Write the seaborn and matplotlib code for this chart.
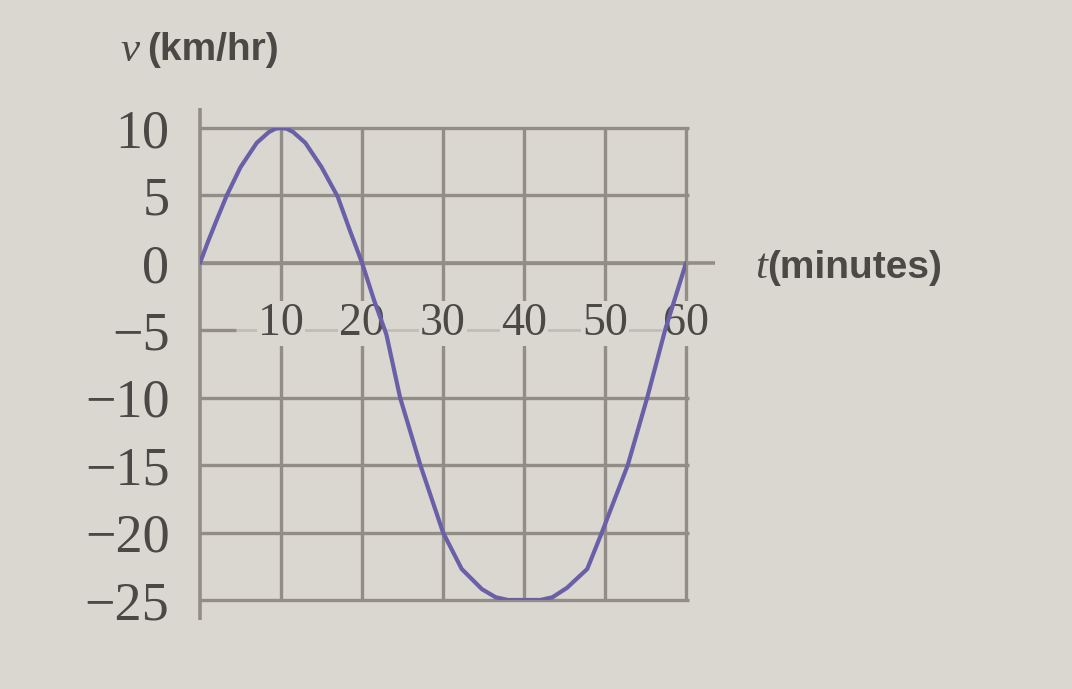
import numpy as np
import pandas as pd
import matplotlib
matplotlib.use("Agg")
import matplotlib.pyplot as plt
import seaborn as sns

# values
t_min = [0, 1, 2, 3.3, 5, 7, 8.5, 9.3, 10, 10.7, 11.5, 13, 15, 17, 18.5, 20, 21.5, 23, 24.7,
         27.2, 30, 32.3, 34.8, 36.5, 38, 40, 42, 43.5, 45.3, 47.8, 49.6, 52.8, 55.2, 57.4, 60]
v_kmh = [0, 1.6, 3.1, 5, 7.1, 8.9, 9.7, 9.95, 10, 9.95, 9.7, 8.9, 7.1, 4.9, 2.4, 0, -2.8, -5.3, -10,
         -15, -20, -22.7, -24.2, -24.8, -25, -25, -25, -24.8, -24.1, -22.7, -20, -15, -10, -5, 0]
x_ticks = [10, 20, 30, 40, 50, 60]
y_ticks = [10, 5, 0, -5, -10, -15, -20, -25]
y_labels = ["10", "5", "0", "\u22125", "\u221210", "\u221215", "\u221220", "\u221225"]

df = pd.DataFrame({"t": t_min, "v": v_kmh})

bg = "#dad6d0"
ink = "#4b4845"
grid_col = "#938d87"

sns.set_theme(style="white", rc={"figure.facecolor": bg, "axes.facecolor": bg})
plt.rcParams["font.family"] = ["Liberation Serif", "DejaVu Serif"]
plt.rcParams["mathtext.fontset"] = "custom"
plt.rcParams["mathtext.it"] = "Liberation Serif:italic"
plt.rcParams["mathtext.rm"] = "Liberation Serif"

fig = plt.figure(figsize=(10.72, 6.89), dpi=100)
ax = fig.add_axes([0.1866, 0.1292, 0.4534, 0.685])
ax.set_xlim(0, 60)
ax.set_ylim(-25, 10)
for s in ax.spines.values():
    s.set_visible(False)

# grid (the -5 line is mostly hidden behind the tick numbers)
grid_rows = [y for y in y_ticks if y != -5]
ax.vlines(x_ticks, -25, 10, colors=grid_col, lw=2.4, clip_on=False, zorder=1)
ax.hlines(grid_rows, 0, 60.3, colors=grid_col, lw=2.4, clip_on=False, zorder=1)
ax.hlines(-5, 0, 4.5, colors=grid_col, lw=2.4, zorder=1)
ax.hlines(-5, 4.5, 60, colors=grid_col, lw=2.0, alpha=0.35, zorder=1)
# axes lines
ax.hlines(0, 0, 63.6, colors=grid_col, lw=2.6, clip_on=False, zorder=1)
ax.vlines(0, -26.5, 11.5, colors=grid_col, lw=2.6, clip_on=False, zorder=1)

# x tick labels sit inside the plot, below the zero line
for xt in x_ticks:
    ax.text(xt, -4.5, str(xt), ha="center", va="center", fontsize=33, color=ink,
            bbox=dict(facecolor=bg, edgecolor="none", pad=0.5), zorder=2)

ax.set_xticks([])
ax.set_yticks(y_ticks)
ax.set_yticklabels(y_labels)
ax.tick_params(axis="y", length=0, pad=22, labelsize=39, labelcolor=ink)

sns.lineplot(data=df, x="t", y="v", ax=ax, color="#6a60a8", lw=3.0, zorder=3,
             solid_joinstyle="round")
ax.set_xlabel("")
ax.set_ylabel("")

fig.text(0.112, 0.927, r"$v$", fontsize=31, color=ink, ha="left", va="center")
fig.text(0.137, 0.927, "(km/hr)", fontsize=28, color=ink, ha="left", va="center",
         family="Liberation Sans", fontweight="bold")
fig.text(0.704, 0.611, r"$t$", fontsize=31, color=ink, ha="left", va="center")
fig.text(0.716, 0.611, "(minutes)", fontsize=28, color=ink, ha="left", va="center",
         family="Liberation Sans", fontweight="bold")

fig.savefig("out.png", dpi=100, facecolor=bg)
